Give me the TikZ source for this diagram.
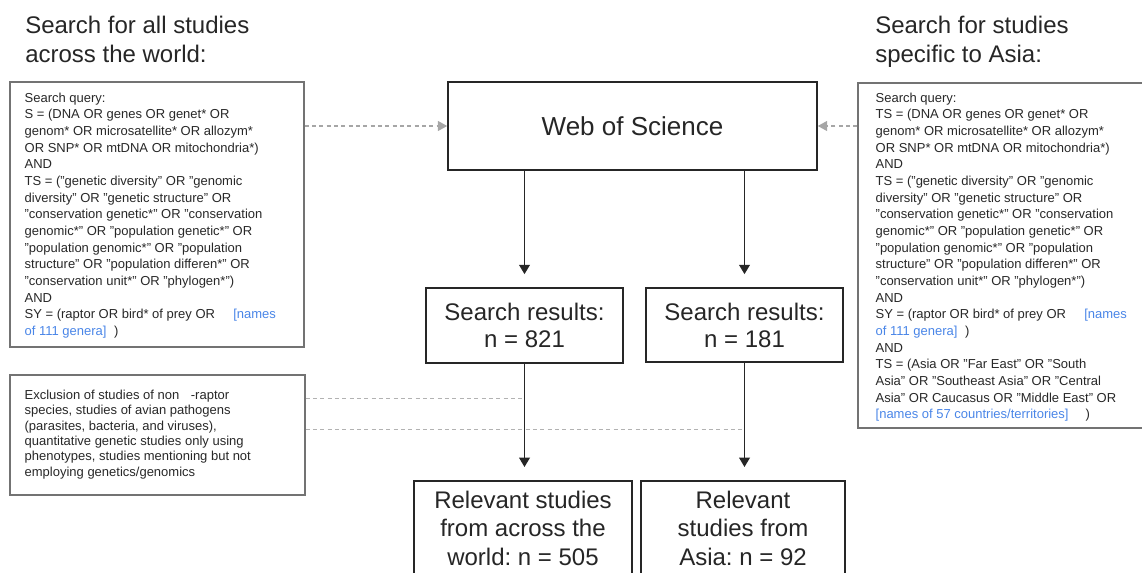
\documentclass[tikz,border=0pt]{standalone}
\usepackage{fontspec}
\setmainfont{Liberation Sans}
\usetikzlibrary{arrows.meta, positioning, calc}
\definecolor{linkblue}{RGB}{74,134,232}
\definecolor{textgray}{RGB}{40,40,40}
\frenchspacing
\tikzset{
	querybox/.style={rectangle, draw=black!55, line width=0.9pt, fill=white},
	querytext/.style={anchor=north west, inner sep=0pt, align=left, text=textgray,
		font=\fontsize{9.75}{12.5}\selectfont},
	mainbox/.style={rectangle, draw=black!85, line width=1.2pt, fill=white,
		align=center, text=black!85, font=\fontsize{18}{20.25}\selectfont},
	headline/.style={anchor=north west, inner sep=0pt, align=left, text=black!85,
		font=\fontsize{18}{21.75}\selectfont},
	myarrow/.style={-{Triangle[width=8pt,length=7pt]}, line width=1.2pt,
		black!85, shorten >=9.75pt},
	dasharrow/.style={-{Triangle[width=7.5pt,length=7pt]}, dash pattern=on 3pt off 2.5pt,
		gray!70, line width=0.8pt},
	dashline/.style={dash pattern=on 3pt off 2.5pt, gray!60, line width=0.7pt}
}
\begin{document}
\begin{tikzpicture}[x=0.75pt, y=-0.75pt]
	\useasboundingbox (0,0) rectangle (1142,573);
	\clip (0,0) rectangle (1142,573);
	
	%% headings
	\node[headline] (worldtitle) at (25,16) {Search for all studies\\across the world:};
	\node[headline] (asiatitle) at (875,16) {Search for studies\\specific to Asia:};
	
	%% world query
	\node[querybox, minimum width=220.5pt, minimum height=198.75pt] (worldq) at (157,214.5) {};
	\node[querytext] (worldqtext) at ([shift={(15,11)}]worldq.north west) {
		Search query:\\
		S = (DNA OR genes OR genet* OR\\
		genom* OR microsatellite* OR allozym*\\
		OR SNP* OR mtDNA OR mitochondria*)\\
		AND\\
		TS = ("genetic diversity" OR "genomic\\
		diversity" OR "genetic structure" OR\\
		"conservation genetic*" OR "conservation\\
		genomic*" OR "population genetic*" OR\\
		"population genomic*" OR "population\\
		structure" OR "population differen*" OR\\
		"conservation unit*" OR "phylogen*")\\
		AND\\
		SY = (raptor OR bird* of prey OR\hspace{11pt} \textcolor{linkblue}{[names}\\
		\textcolor{linkblue}{of 111 genera]}\hspace{3pt} )
	};
	
	%% Asia query
	\node[querybox, minimum width=225pt, minimum height=258.75pt] (asiaq) at (1008,255.5) {};
	\node[querytext] (asiaqtext) at ([shift={(18,10)}]asiaq.north west) {
		Search query:\\
		TS = (DNA OR genes OR genet* OR\\
		genom* OR microsatellite* OR allozym*\\
		OR SNP* OR mtDNA OR mitochondria*)\\
		AND\\
		TS = ("genetic diversity" OR "genomic\\
		diversity" OR "genetic structure" OR\\
		"conservation genetic*" OR "conservation\\
		genomic*" OR "population genetic*" OR\\
		"population genomic*" OR "population\\
		structure" OR "population differen*" OR\\
		"conservation unit*" OR "phylogen*")\\
		AND\\
		SY = (raptor OR bird* of prey OR\hspace{11pt} \textcolor{linkblue}{[names}\\
		\textcolor{linkblue}{of 111 genera]}\hspace{3pt} )\\
		AND\\
		TS = (Asia OR "Far East" OR "South\\
		Asia" OR "Southeast Asia" OR "Central\\
		Asia" OR Caucasus OR "Middle East" OR\\
		\textcolor{linkblue}{[names of 57 countries/territories]}\hspace{10pt} )
	};
	
	%% exclusion criteria
	\node[querybox, minimum width=221.25pt, minimum height=90pt] (excl) at (157.5,435) {};
	\node[querytext, font=\fontsize{9.75}{11.6}\selectfont] (excltext)
	at ([shift={(15,15)}]excl.north west) {
		Exclusion of studies of non\hspace{6pt} -raptor\\
		species, studies of avian pathogens\\
		(parasites, bacteria, and viruses),\\
		quantitative genetic studies only using\\
		phenotypes, studies mentioning but not\\
		employing genetics/genomics
	};
	
	%% database and counts
	\node[mainbox, minimum width=276.75pt, minimum height=66pt,
	font=\fontsize{19.5}{22}\selectfont] (wos) at (632.5,126) {Web of Science};
	
	\node[mainbox, minimum width=147.75pt, minimum height=56.25pt]
	(worldres) at (524.5,325.5) {Search results:\\n = 821};
	\node[mainbox, minimum width=147.75pt, minimum height=55.5pt]
	(asiares) at (744.5,325) {Search results:\\n = 181};
	
	\node[mainbox, minimum width=163.5pt, minimum height=90pt, anchor=north]
	(worldrel) at (523,480) {};
	\node[inner sep=0pt, anchor=north, align=center, text=black!85,
	font=\fontsize{18}{21.4}\selectfont] (worldreltext)
	at ([shift={(0,10.5)}]worldrel.north) {Relevant studies\\from across the\\world: n = 505};
	\node[mainbox, minimum width=153pt, minimum height=90pt, anchor=north]
	(asiarel) at (743,480) {};
	\node[inner sep=0pt, anchor=north, align=center, text=black!85,
	font=\fontsize{18}{21.4}\selectfont] (asiareltext)
	at ([shift={(0,10.5)}]asiarel.north) {Relevant\\studies from\\Asia: n = 92};
	
	%% query -> database
	\draw[dasharrow] (worldq.east |- wos.west) -- (wos.west);
	\draw[dasharrow] (asiaq.west |- wos.east) -- (wos.east);
	
	%% main flow
	\draw[myarrow] (worldres.north |- wos.south) -- (worldres.north);
	\draw[myarrow] (asiares.north |- wos.south) -- (asiares.north);
	\draw[myarrow] (worldres.south) -- (worldres.south |- worldrel.north);
	\draw[myarrow] (asiares.south) -- (asiares.south |- asiarel.north);
	
	%% exclusion applied to both branches
	\coordinate (cutA) at (worldres.south |- 0,398);
	\coordinate (cutB) at (asiares.south |- 0,429);
	\draw[dashline] (excl.east |- cutA) -- (cutA);
	\draw[dashline] (excl.east |- cutB) -- (cutB);
	
\end{tikzpicture}
\end{document}
